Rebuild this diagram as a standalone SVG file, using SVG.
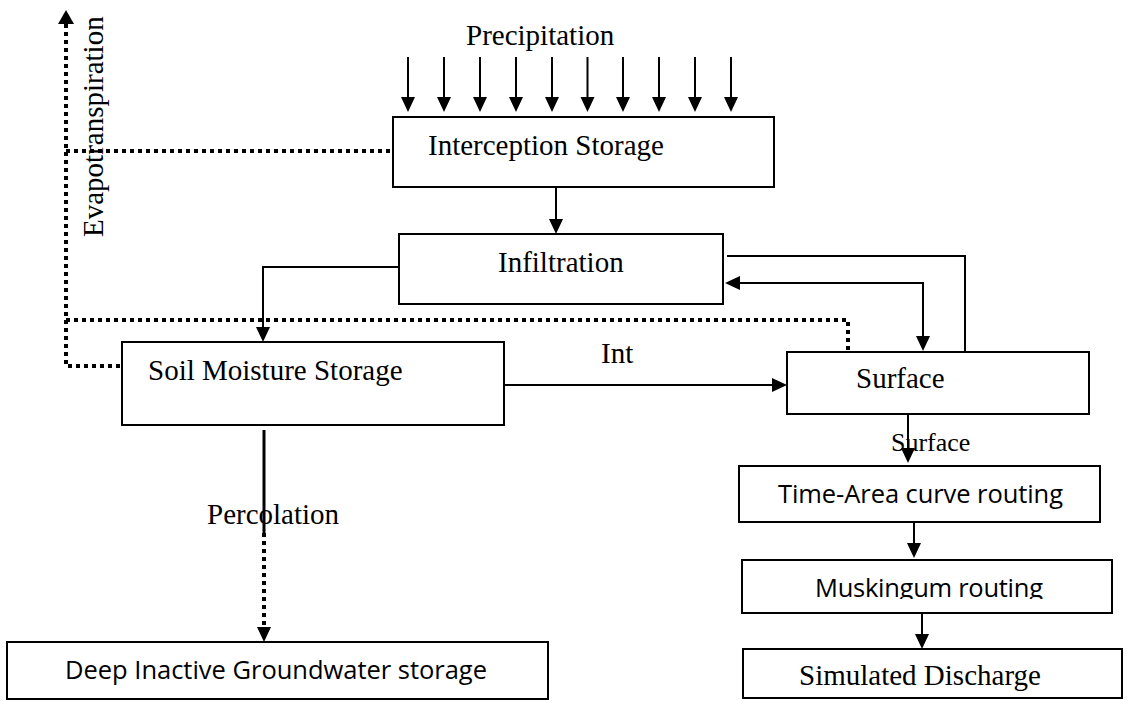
<svg xmlns="http://www.w3.org/2000/svg" width="1127" height="701" viewBox="0 0 1127 701">
<style>
.box{fill:#fff;stroke:#000;stroke-width:2}
.serif{font-family:"Liberation Serif","Times New Roman",serif;font-size:29px;fill:#000}
.sans{font-family:"Open Sans","Liberation Sans",sans-serif;font-size:25.5px;fill:#000}
.ln{fill:none;stroke:#000;stroke-width:2}
.dot{fill:none;stroke:#000;stroke-width:4;stroke-dasharray:4 4}
</style>
<defs>
<marker id="ah" markerUnits="userSpaceOnUse" markerWidth="16" markerHeight="16" refX="0" refY="7" orient="auto-start-reverse">
<path d="M0,0 L15,7 L0,14 Z" fill="#000"/>
</marker>
<marker id="ahd" markerUnits="userSpaceOnUse" markerWidth="17" markerHeight="17" refX="0" refY="8" orient="auto">
<path d="M0,0 L14,8 L0,16 Z" fill="#000"/>
</marker>
<clipPath id="clipMusk"><rect x="742" y="560" width="370" height="39"/></clipPath>
<clipPath id="clipSim"><rect x="743" y="649" width="379" height="43"/></clipPath>
</defs>

<g id="labels">
<text class="serif" x="466" y="45">Precipitation</text>
<text class="serif" transform="translate(103,237) rotate(-90)">Evapotranspiration</text>
<text class="serif" x="601" y="363">Int</text>
<text class="serif" x="207" y="524">Percolation</text>
</g>

<g id="connectors">
<line class="ln" x1="408" y1="57" x2="408" y2="97" marker-end="url(#ah)"/>
<line class="ln" x1="444" y1="57" x2="444" y2="97" marker-end="url(#ah)"/>
<line class="ln" x1="480" y1="57" x2="480" y2="97" marker-end="url(#ah)"/>
<line class="ln" x1="516" y1="57" x2="516" y2="97" marker-end="url(#ah)"/>
<line class="ln" x1="552" y1="57" x2="552" y2="97" marker-end="url(#ah)"/>
<line class="ln" x1="587.5" y1="57" x2="587.5" y2="97" marker-end="url(#ah)"/>
<line class="ln" x1="623" y1="57" x2="623" y2="97" marker-end="url(#ah)"/>
<line class="ln" x1="659" y1="57" x2="659" y2="97" marker-end="url(#ah)"/>
<line class="ln" x1="695" y1="57" x2="695" y2="97" marker-end="url(#ah)"/>
<line class="ln" x1="731" y1="57" x2="731" y2="97" marker-end="url(#ah)"/>
<line class="ln" x1="556" y1="187" x2="556" y2="219" marker-end="url(#ah)"/>
<polyline class="ln" points="399,267 263,267 263,327" marker-end="url(#ah)"/>
<polyline class="ln" points="727,256 965,256 965,351"/>
<polyline class="ln" points="740,283 923,283 923,336" marker-start="url(#ah)" marker-end="url(#ah)"/>
<line class="ln" x1="504" y1="385" x2="772" y2="385" marker-end="url(#ah)"/>
<line class="ln" x1="908" y1="414" x2="908" y2="448" marker-end="url(#ah)"/>
<line class="ln" x1="914" y1="522" x2="914" y2="543" marker-end="url(#ah)"/>
<line class="ln" x1="922" y1="613" x2="922" y2="634" marker-end="url(#ah)"/>
<line x1="264" y1="430" x2="264" y2="533" stroke="#000" stroke-width="3"/>
<line class="dot" x1="264" y1="533" x2="264" y2="627" marker-end="url(#ah)"/>
<polyline class="dot" points="120,366 66,366 66,24" marker-end="url(#ahd)"/>
<line class="dot" x1="66" y1="151" x2="393" y2="151"/>
<polyline class="dot" points="66,320 848,320 848,351"/>
</g>

<g id="interception"><rect class="box" x="393" y="117" width="381" height="70"/><text class="serif" x="428" y="155">Interception Storage</text></g>
<g id="infiltration"><rect class="box" x="399" y="234" width="324" height="70"/><text class="serif" x="498" y="272">Infiltration</text></g>
<g id="soil"><rect class="box" x="122" y="342" width="382" height="83"/><text class="serif" x="148" y="380">Soil Moisture Storage</text></g>
<g id="surface"><rect class="box" x="787" y="352" width="302" height="62"/><text class="serif" x="856" y="388">Surface</text></g>
<g id="surface-label"><text class="serif" x="891" y="451" style="font-size:26px">Surface</text></g>
<g id="timearea"><rect class="box" x="739" y="466" width="361" height="56"/><text class="sans" x="778" y="503" textLength="285">Time-Area curve routing</text></g>
<g id="muskingum"><rect class="box" x="742" y="560" width="370" height="53"/><text class="sans" x="815" y="597" textLength="228" clip-path="url(#clipMusk)">Muskingum routing</text></g>
<g id="simulated"><rect class="box" x="743" y="649" width="379" height="49"/><text class="serif" x="799" y="685" clip-path="url(#clipSim)">Simulated Discharge</text></g>
<g id="deep"><rect class="box" x="7" y="642" width="541" height="57"/><text class="sans" x="65" y="679" textLength="422">Deep Inactive Groundwater storage</text></g>
</svg>
